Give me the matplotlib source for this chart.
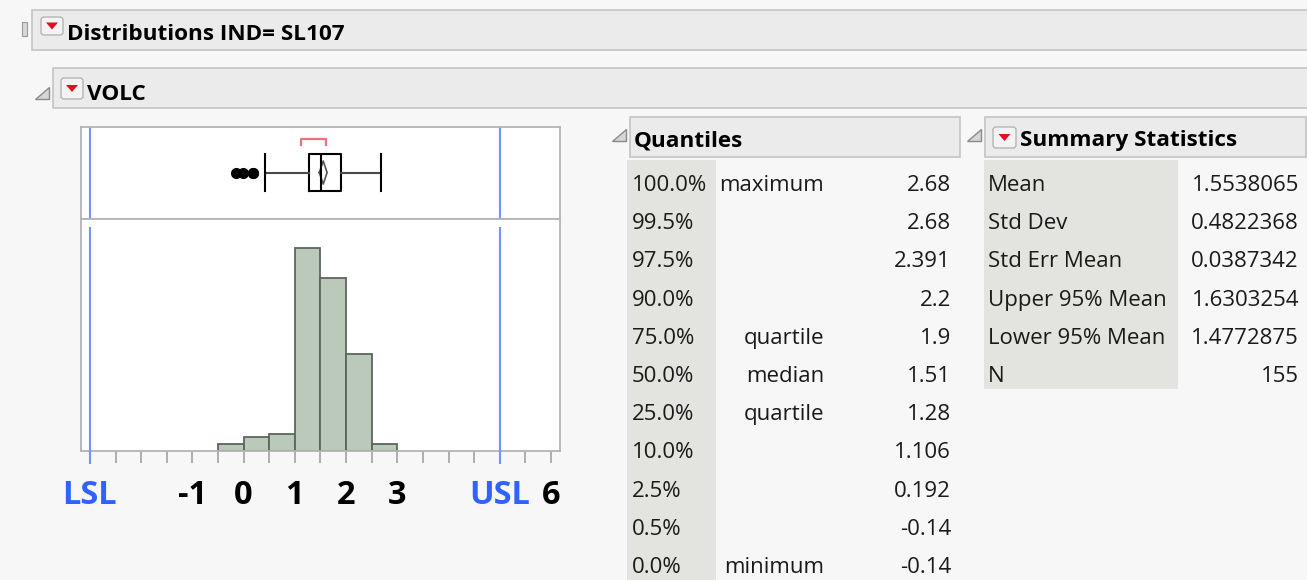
import numpy as np
import matplotlib
matplotlib.use('Agg')
import matplotlib.pyplot as plt
from matplotlib.patches import Rectangle, FancyBboxPatch, Polygon

plt.rcParams['font.family'] = ['Open Sans', 'DejaVu Sans']

# ---- data ----
bin_edges = [-0.5, 0.0, 0.5, 1.0, 1.5, 2.0, 2.5, 3.0]
counts = [2, 4, 5, 61, 52, 29, 2]

lsl, usl = -3, 5
tick_pos = np.arange(-3, 6.01, 0.5)
tick_text = {-3: 'LSL', -1: '-1', 0: '0', 1: '1', 2: '2', 3: '3', 5: 'USL', 6: '6'}

q1, median, q3 = 1.28, 1.51, 1.9
whisker_lo, whisker_hi = 0.41, 2.68
outliers = [-0.14, -0.02, 0.19, 0.19]
mean, mean_lo, mean_hi = 1.5538065, 1.4772875, 1.6303254
shortest_half = (1.12, 1.61)

quant_pcts = ['100.0%', '99.5%', '97.5%', '90.0%', '75.0%', '50.0%',
              '25.0%', '10.0%', '2.5%', '0.5%', '0.0%']
quant_names = ['maximum', '', '', '', 'quartile', 'median',
               'quartile', '', '', '', 'minimum']
quant_vals = ['2.68', '2.68', '2.391', '2.2', '1.9', '1.51',
              '1.28', '1.106', '0.192', '-0.14', '-0.14']

stat_names = ['Mean', 'Std Dev', 'Std Err Mean', 'Upper 95% Mean',
              'Lower 95% Mean', 'N']
stat_vals = ['1.5538065', '0.4822368', '0.0387342', '1.6303254',
             '1.4772875', '155']

W, H = 1307, 580
fig = plt.figure(figsize=(W / 100, H / 100), dpi=100, facecolor='#f7f7f7')

# background layer in pixel coordinates
bg = fig.add_axes([0, 0, 1, 1], zorder=0)
bg.set_xlim(0, W)
bg.set_ylim(H, 0)
bg.axis('off')

HDR_FILL, HDR_EDGE = '#ebebeb', '#c4c4c4'
TXT = '#1a1a1a'
TFS = 16    # table font size
HFS = 16.2  # header font size


def header(x0, y0, x1, y1):
    bg.add_patch(Rectangle((x0, y0), x1 - x0, y1 - y0, facecolor=HDR_FILL,
                           edgecolor=HDR_EDGE, lw=1.2))


def red_button(x, y, w=22, h=20):
    bg.add_patch(FancyBboxPatch((x, y), w, h, boxstyle='round,pad=0,rounding_size=3',
                                facecolor='#f3f3f3', edgecolor='#b5b5b5', lw=1))
    cx, cy = x + w / 2, y + h / 2
    bg.add_patch(Polygon([[cx - 6, cy - 3.5], [cx + 6, cy - 3.5], [cx, cy + 3.5]],
                         closed=True, facecolor='#e01020', edgecolor='none'))


def disclosure(x, y):
    bg.add_patch(Polygon([[x, y + 12], [x + 14, y + 12], [x + 14, y]], closed=True,
                         facecolor='#d6d6d6', edgecolor='#8a8a8a', lw=1))


# top-level headers
header(32, 10, W + 5, 50)
bg.add_patch(Rectangle((22, 22), 5, 14, facecolor='#d8d8d8', edgecolor='#9a9a9a', lw=0.8))
red_button(41, 17, 22, 18)
bg.text(67, 40, 'Distributions IND= SL107', fontsize=HFS, fontweight='bold', color='black')

header(53, 68, W + 5, 108)
disclosure(35, 87)
red_button(61, 78, 22, 21)
bg.text(87, 100, 'VOLC', fontsize=HFS, fontweight='bold', color='black')

# Quantiles table
header(630, 117, 960, 157)
disclosure(612, 129)
bg.text(634, 146, 'Quantiles', fontsize=HFS, fontweight='bold', color='black')
bg.add_patch(Rectangle((627, 160), 89, H - 160, facecolor='#e3e3df', edgecolor='none'))
row_h = 38.2
for i, (p, n, v) in enumerate(zip(quant_pcts, quant_names, quant_vals)):
    yb = 191 + i * row_h
    bg.text(632, yb, p, fontsize=TFS, color=TXT)
    if n:
        bg.text(824, yb, n, fontsize=TFS, color=TXT, ha='right')
    bg.text(951, yb, v, fontsize=TFS, color=TXT, ha='right')

# Summary Statistics table
header(985, 117, 1306, 157)
disclosure(967, 129)
red_button(993, 127, 23, 21)
bg.text(1020, 146, 'Summary Statistics', fontsize=HFS, fontweight='bold', color='black')
bg.add_patch(Rectangle((984, 160), 194, 229, facecolor='#e3e3df', edgecolor='none'))
for i, (n, v) in enumerate(zip(stat_names, stat_vals)):
    yb = 191 + i * row_h
    bg.text(988, yb, n, fontsize=TFS, color=TXT)
    bg.text(1299, yb, v, fontsize=TFS, color=TXT, ha='right')

# ---- plot panels ----
xlim = (-3.18, 6.176)
left, width = 80.7 / W, (560 - 80.7) / W
ax_box = fig.add_axes([left, (H - 219.3) / H, width, (219.3 - 126.7) / H], zorder=2)
ax_hist = fig.add_axes([left, (H - 450.7) / H, width, (450.7 - 219.3) / H], zorder=2)

SPEC_BLUE = '#6f94ff'

# box plot panel
stats = [dict(med=median, q1=q1, q3=q3, whislo=whisker_lo, whishi=whisker_hi,
              fliers=outliers)]
ax_box.bxp(stats, positions=[0.505], widths=0.406, capwidths=0.406, vert=False,
           showfliers=True, manage_ticks=False,
           boxprops=dict(color='black', lw=1.5),
           medianprops=dict(color='black', lw=1.5),
           whiskerprops=dict(color='#4a4a4a', lw=1.5),
           capprops=dict(color='black', lw=1.5),
           flierprops=dict(marker='o', markersize=7, markerfacecolor='black',
                           markeredgecolor='black'))
dh = 0.125
ax_box.plot([mean_lo, mean, mean_hi, mean, mean_lo],
            [0.505, 0.505 + dh, 0.505, 0.505 - dh, 0.505], color='#555555', lw=1.2)
a, b = shortest_half
ax_box.plot([a, a, b, b], [0.80, 0.87, 0.87, 0.80], color='#e8737d', lw=1.6)
for v in (lsl, usl):
    ax_box.axvline(v, color=SPEC_BLUE, lw=1.5)
ax_box.set_ylim(0, 1)
ax_box.set_xticks([])
ax_box.set_yticks([])

# histogram panel
ax_hist.bar(bin_edges[:-1], counts, width=np.diff(bin_edges), align='edge',
            color='#bac9ba', edgecolor='#5b665b', lw=1.3, zorder=2)
ax_hist.set_ylim(0, 69.6)
ax_hist.set_yticks([])
for v in (lsl, usl):
    ax_hist.axvline(v, ymin=-0.053, ymax=0.962, color=SPEC_BLUE, lw=1.5,
                    clip_on=False, zorder=3)
labels = [tick_text.get(t, '') if float(t).is_integer() else '' for t in tick_pos]
ax_hist.set_xticks(tick_pos)
ax_hist.set_xticklabels(labels, fontsize=23.5, fontweight='bold')
ax_hist.tick_params(axis='x', direction='out', length=8.6, width=1.3,
                    color='#a8a8a8', pad=12)
for lbl in ax_hist.get_xticklabels():
    if lbl.get_text() in ('LSL', 'USL'):
        lbl.set_color('#2f62ff')
    else:
        lbl.set_color('black')

for ax in (ax_box, ax_hist):
    ax.set_xlim(*xlim)
    ax.set_facecolor('white')
    for s in ax.spines.values():
        s.set_color('#b4b4b4')
        s.set_linewidth(1.3)

fig.savefig('out.png', dpi=100, facecolor=fig.get_facecolor())
